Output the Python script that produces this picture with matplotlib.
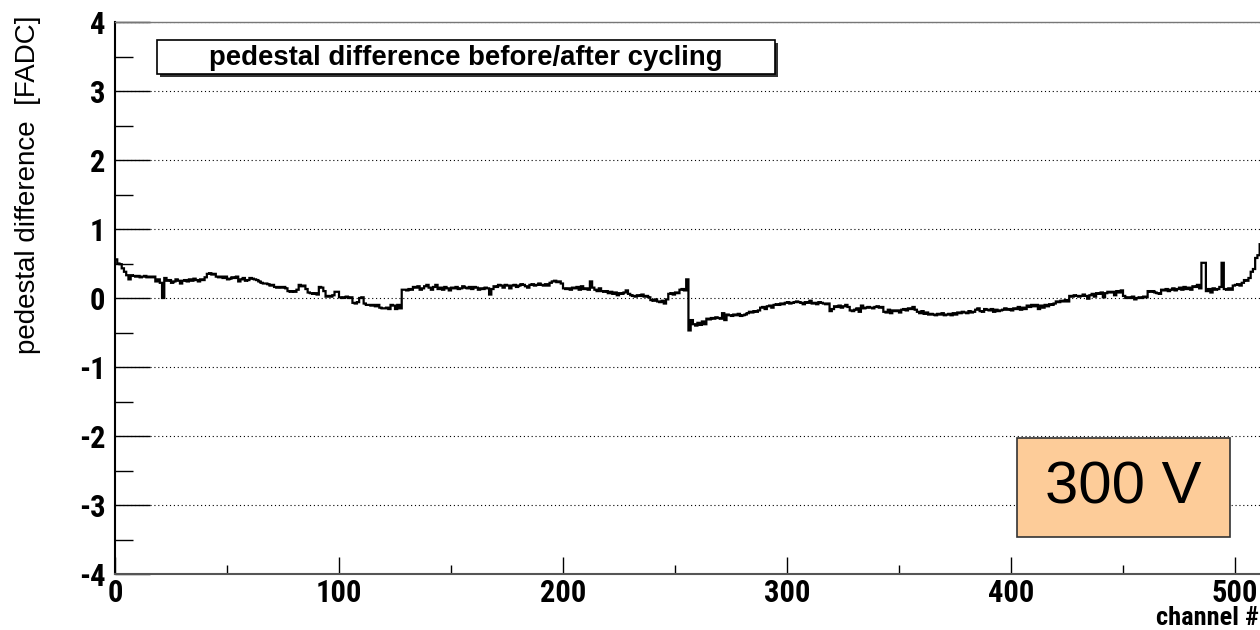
import numpy as np
import matplotlib
matplotlib.use('Agg')
import matplotlib.pyplot as plt
from matplotlib.patches import Rectangle
from matplotlib import font_manager

# pedestal difference per channel (FADC), 512 channels
ped_diff = [
    0.56, 0.50, 0.49, 0.43, 0.38, 0.33, 0.27, 0.33, 0.32, 0.31, 0.32, 0.30, 0.31, 0.32, 0.30, 0.31,
    0.30, 0.31, 0.24, 0.27, 0.22, 0.00, 0.29, 0.25, 0.26, 0.22, 0.24, 0.27, 0.25, 0.21, 0.25, 0.26,
    0.24, 0.27, 0.25, 0.28, 0.26, 0.24, 0.27, 0.26, 0.30, 0.35, 0.36, 0.34, 0.35, 0.31, 0.30, 0.31,
    0.29, 0.31, 0.27, 0.28, 0.30, 0.29, 0.31, 0.24, 0.27, 0.29, 0.25, 0.26, 0.29, 0.28, 0.27, 0.26,
    0.24, 0.22, 0.21, 0.21, 0.20, 0.18, 0.19, 0.16, 0.15, 0.16, 0.15, 0.16, 0.14, 0.10, 0.09, 0.10,
    0.09, 0.12, 0.19, 0.17, 0.18, 0.13, 0.08, 0.07, 0.06, 0.07, 0.05, 0.16, 0.15, 0.10, 0.02, 0.03,
    0.02, 0.04, 0.09, 0.09, 0.01, 0.00, 0.01, 0.02, 0.00, 0.01, -0.07, -0.08, -0.06, 0.00, 0.01, -0.08,
    -0.10, -0.10, -0.11, -0.10, -0.12, -0.10, -0.14, -0.15, -0.15, -0.14, -0.16, -0.10, -0.11, -0.16, -0.10, -0.15,
    0.12, 0.12, 0.11, 0.13, 0.12, 0.16, 0.15, 0.17, 0.12, 0.14, 0.17, 0.19, 0.15, 0.12, 0.16, 0.19,
    0.13, 0.15, 0.12, 0.16, 0.14, 0.11, 0.15, 0.14, 0.16, 0.13, 0.14, 0.17, 0.15, 0.14, 0.16, 0.13,
    0.16, 0.15, 0.12, 0.14, 0.13, 0.15, 0.14, 0.05, 0.13, 0.17, 0.16, 0.19, 0.18, 0.15, 0.19, 0.18,
    0.14, 0.18, 0.19, 0.16, 0.18, 0.20, 0.19, 0.17, 0.15, 0.19, 0.20, 0.18, 0.19, 0.21, 0.19, 0.18,
    0.20, 0.18, 0.22, 0.24, 0.25, 0.23, 0.24, 0.21, 0.14, 0.13, 0.14, 0.12, 0.15, 0.14, 0.16, 0.12,
    0.17, 0.13, 0.14, 0.12, 0.24, 0.15, 0.12, 0.10, 0.14, 0.10, 0.09, 0.10, 0.07, 0.09, 0.06, 0.08,
    0.04, 0.07, 0.06, 0.08, 0.11, 0.06, 0.04, 0.03, 0.02, 0.04, 0.03, 0.05, 0.02, 0.03, 0.01, -0.03,
    -0.04, -0.02, -0.05, -0.06, -0.04, -0.08, -0.02, 0.06, 0.07, 0.05, 0.08, 0.07, 0.12, 0.13, 0.11, 0.27,
    -0.47, -0.32, -0.38, -0.40, -0.36, -0.39, -0.34, -0.38, -0.30, -0.31, -0.29, -0.30, -0.28, -0.29, -0.30, -0.22,
    -0.32, -0.24, -0.25, -0.26, -0.24, -0.25, -0.23, -0.26, -0.25, -0.24, -0.22, -0.20, -0.21, -0.19, -0.20, -0.18,
    -0.14, -0.13, -0.16, -0.12, -0.11, -0.14, -0.10, -0.09, -0.10, -0.08, -0.09, -0.07, -0.06, -0.08, -0.07, -0.06,
    -0.05, -0.06, -0.07, -0.09, -0.06, -0.07, -0.04, -0.08, -0.07, -0.09, -0.06, -0.07, -0.08, -0.09, -0.08, -0.19,
    -0.16, -0.12, -0.13, -0.11, -0.14, -0.12, -0.10, -0.13, -0.18, -0.19, -0.17, -0.15, -0.20, -0.11, -0.15, -0.14,
    -0.13, -0.14, -0.15, -0.13, -0.12, -0.14, -0.13, -0.20, -0.21, -0.17, -0.22, -0.18, -0.19, -0.18, -0.21, -0.17,
    -0.16, -0.18, -0.15, -0.16, -0.13, -0.17, -0.20, -0.22, -0.19, -0.23, -0.21, -0.24, -0.23, -0.24, -0.25, -0.23,
    -0.24, -0.22, -0.25, -0.24, -0.23, -0.25, -0.22, -0.24, -0.21, -0.22, -0.20, -0.21, -0.22, -0.19, -0.21, -0.20,
    -0.17, -0.15, -0.19, -0.20, -0.16, -0.17, -0.18, -0.16, -0.20, -0.17, -0.19, -0.18, -0.17, -0.15, -0.17, -0.16,
    -0.18, -0.15, -0.16, -0.13, -0.17, -0.14, -0.16, -0.11, -0.13, -0.10, -0.12, -0.10, -0.16, -0.11, -0.14, -0.10,
    -0.12, -0.09, -0.10, -0.08, -0.05, -0.06, -0.04, -0.05, -0.03, -0.05, 0.03, 0.02, 0.04, 0.03, 0.02, 0.03,
    0.05, 0.03, -0.01, 0.04, 0.06, 0.02, 0.07, 0.06, 0.08, 0.01, 0.07, 0.09, 0.08, 0.09, 0.04, 0.10,
    0.08, 0.11, 0.03, 0.00, 0.01, 0.00, 0.02, -0.02, 0.00, 0.01, 0.00, 0.02, 0.01, 0.10, 0.09, 0.10,
    0.08, 0.07, 0.06, 0.12, 0.11, 0.13, 0.10, 0.12, 0.14, 0.11, 0.13, 0.15, 0.12, 0.16, 0.13, 0.15,
    0.12, 0.17, 0.16, 0.19, 0.14, 0.51, 0.51, 0.10, 0.13, 0.08, 0.14, 0.12, 0.13, 0.16, 0.51, 0.13,
    0.12, 0.14, 0.12, 0.18, 0.19, 0.20, 0.18, 0.22, 0.26, 0.25, 0.29, 0.38, 0.42, 0.58, 0.62, 0.78,
]

title_text = "pedestal difference before/after cycling"
voltage_text = "300 V"
xlabel_text = "channel #"
ylabel_text = "pedestal difference  [FADC]"

plain_font = ['Liberation Sans', 'DejaVu Sans']


def pick_condensed():
    names = {f.name for f in font_manager.fontManager.ttflist}
    for cand in ['Liberation Sans Narrow', 'DejaVu Sans Condensed', 'Roboto Condensed',
                 'Open Sans Condensed', 'Noto Sans Condensed']:
        if cand in names:
            return [cand, 'Liberation Sans', 'DejaVu Sans'], True
    return ['Liberation Sans', 'DejaVu Sans'], False


def main():
    plt.rcParams['axes.unicode_minus'] = False
    bold_font, condensed = pick_condensed()
    tick_size = 22 if condensed else 20

    vals = np.array(ped_diff)
    edges = np.arange(len(vals) + 1)

    W, H = 1260, 630
    fig = plt.figure(figsize=(W / 100, H / 100), dpi=100)
    fig.patch.set_facecolor('white')

    # axes box in pixel terms (ROOT canvas margins)
    left, right_px, top, bottom = 115, 115 + 2.24 * 512, 22, 574
    ax = fig.add_axes([left / W, 1 - bottom / H, (right_px - left) / W, (bottom - top) / H])

    ax.stairs(vals, edges, baseline=None, color='black', linewidth=1.6)

    ax.set_xlim(0, 512)
    ax.set_ylim(-4, 4)

    ax.set_xticks(np.arange(0, 501, 100))
    ax.set_xticks(np.arange(50, 501, 100), minor=True)
    ax.set_yticks(np.arange(-4, 5, 1))
    ax.set_yticks(np.arange(-3.5, 4, 1), minor=True)

    ax.tick_params(axis='y', which='major', direction='in', length=25, width=1.0, pad=7)
    ax.tick_params(axis='y', which='minor', direction='in', length=13, width=1.0)
    ax.tick_params(axis='x', which='major', direction='in', length=12, width=1.0, pad=3)
    ax.tick_params(axis='x', which='minor', direction='in', length=6.5, width=1.0)

    for lab in ax.get_yticklabels() + ax.get_xticklabels():
        lab.set_fontfamily(bold_font)
        lab.set_fontweight('bold')
        lab.set_fontsize(tick_size)

    ax.grid(axis='y', which='major', linestyle=(0, (1, 2.5)), color='black', linewidth=0.8)
    ax.set_axisbelow(True)

    ax.spines['left'].set_linewidth(1.5)
    ax.spines['bottom'].set_linewidth(1.5)
    ax.spines['bottom'].set_color('#555555')
    ax.spines['top'].set_color('#777777')
    ax.spines['top'].set_linewidth(1.0)
    ax.spines['right'].set_visible(False)

    # axis titles
    fig.text(28 / W, 1 - 185 / H, ylabel_text, rotation=90, ha='center', va='center',
             fontsize=20, family=plain_font)
    fig.text(1259 / W, 1 - 630 / H, xlabel_text, ha='right', va='bottom',
             fontsize=19 if condensed else 17, fontweight='bold', family=bold_font)

    # title box with shadow
    bx0, by0, bx1, by1 = 157, 40, 775, 74
    fig.add_artist(Rectangle(((bx0 + 3) / W, 1 - (by1 + 3) / H), (bx1 - bx0) / W, (by1 - by0) / H,
                             transform=fig.transFigure, facecolor='#333333', edgecolor='none'))
    fig.add_artist(Rectangle((bx0 / W, 1 - by1 / H), (bx1 - bx0) / W, (by1 - by0) / H,
                             transform=fig.transFigure, facecolor='white', edgecolor='black', linewidth=1.2))
    fig.text((bx0 + bx1) / 2 / W, 1 - (by0 + by1 + 2) / 2 / H, title_text, ha='center', va='center',
             fontsize=19.8, fontweight='bold', family=plain_font)

    # voltage label box
    vx0, vy0, vx1, vy1 = 1017, 438, 1230, 537
    fig.add_artist(Rectangle((vx0 / W, 1 - vy1 / H), (vx1 - vx0) / W, (vy1 - vy0) / H,
                             transform=fig.transFigure, facecolor='#fdcc99', edgecolor='#333333', linewidth=1.2))
    fig.text((vx0 + vx1) / 2 / W, 1 - (vy0 + vy1) / 2 / H, voltage_text, ha='center', va='center',
             fontsize=43, family=plain_font)

    fig.savefig('out.png', dpi=100)


if __name__ == '__main__':
    main()
